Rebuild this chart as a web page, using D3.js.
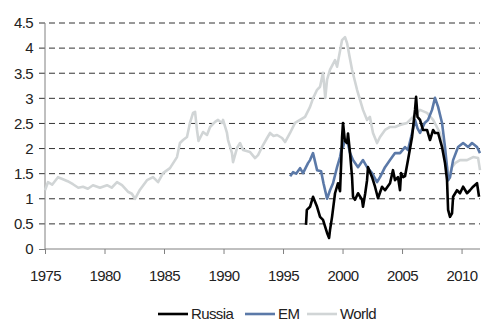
<!DOCTYPE html>
<html>
<head>
<meta charset="utf-8">
<script src="https://cdn.jsdelivr.net/npm/d3@7"></script>
<style>
  html, body { margin: 0; padding: 0; background: #fff; }
  svg { display: block; font-family: "Liberation Sans", Arial, sans-serif; }
  text { letter-spacing: -0.6px; }
</style>
</head>
<body>
<svg id="chart" width="500" height="325"></svg>
<script>
// Valuation ratios sampled through time (decimal years)
const worldYears = [1975.0, 1975.25, 1975.6, 1976.09, 1976.51, 1976.9, 1977.35, 1977.8, 1978.19, 1978.6, 1979.03, 1979.62, 1980.21, 1980.6, 1981.05, 1981.47, 1981.97, 1982.3, 1982.56, 1982.98, 1983.57, 1984.08, 1984.5, 1984.92, 1985.5, 1986.09, 1986.34, 1986.6, 1986.93, 1987.18, 1987.44, 1987.61, 1987.77, 1987.9, 1988.28, 1988.61, 1988.87, 1989.29, 1989.54, 1989.87, 1989.96, 1990.29, 1990.38, 1990.71, 1990.8, 1991.13, 1991.39, 1991.64, 1992.23, 1992.65, 1992.9, 1993.32, 1993.66, 1993.91, 1994.2, 1994.5, 1994.92, 1995.17, 1995.59, 1996.01, 1996.43, 1996.85, 1997.27, 1997.52, 1997.86, 1998.11, 1998.36, 1998.55, 1998.7, 1998.95, 1999.37, 1999.54, 1999.96, 2000.21, 2000.38, 2000.6, 2000.8, 2001.22, 2001.47, 2001.72, 2002.06, 2002.3, 2002.56, 2002.9, 2003.15, 2003.57, 2003.99, 2004.41, 2004.83, 2005.42, 2005.92, 2006.51, 2007.1, 2007.61, 2008.19, 2008.45, 2008.78, 2008.87, 2009.2, 2009.45, 2009.87, 2010.46, 2010.97, 2011.39, 2011.55];
const worldValues = [1.17, 1.33, 1.28, 1.43, 1.39, 1.35, 1.29, 1.22, 1.24, 1.2, 1.27, 1.22, 1.27, 1.22, 1.33, 1.27, 1.14, 1.1, 1.0, 1.18, 1.37, 1.43, 1.33, 1.51, 1.61, 1.83, 2.11, 2.17, 2.23, 2.51, 2.71, 2.73, 2.37, 2.15, 2.33, 2.27, 2.43, 2.53, 2.57, 2.51, 2.57, 2.31, 2.17, 1.91, 1.73, 2.01, 2.11, 1.97, 1.93, 1.81, 1.87, 2.07, 2.21, 2.31, 2.25, 2.27, 2.21, 2.13, 2.31, 2.51, 2.57, 2.63, 2.83, 3.0, 3.17, 3.23, 3.51, 3.01, 3.37, 3.57, 3.76, 3.63, 4.16, 4.22, 4.1, 3.82, 3.57, 3.17, 2.97, 2.77, 2.57, 2.63, 2.31, 2.11, 2.23, 2.37, 2.43, 2.43, 2.47, 2.51, 2.63, 2.77, 2.71, 2.57, 2.31, 2.03, 1.63, 1.37, 1.63, 1.71, 1.77, 1.77, 1.83, 1.81, 1.57];

const emYears = [1995.6, 1995.84, 1996.1, 1996.43, 1996.68, 1997.1, 1997.27, 1997.52, 1997.86, 1998.2, 1998.4, 1998.7, 1998.95, 1999.2, 1999.54, 1999.79, 1999.96, 2000.04, 2000.2, 2000.38, 2000.63, 2000.88, 2001.3, 2001.72, 2002.06, 2002.48, 2002.9, 2003.15, 2003.57, 2003.99, 2004.41, 2004.83, 2005.25, 2005.5, 2005.84, 2006.09, 2006.3, 2006.51, 2006.9, 2007.18, 2007.52, 2007.77, 2008.03, 2008.36, 2008.61, 2008.78, 2008.87, 2009.03, 2009.29, 2009.71, 2010.13, 2010.55, 2010.88, 2011.3, 2011.55];
const emValues = [1.45, 1.53, 1.5, 1.61, 1.51, 1.71, 1.77, 1.91, 1.57, 1.55, 1.31, 1.0, 1.17, 1.31, 1.63, 1.83, 2.05, 2.03, 2.17, 2.17, 1.91, 1.77, 1.63, 1.77, 1.63, 1.51, 1.33, 1.43, 1.63, 1.77, 1.91, 1.91, 2.03, 1.97, 2.31, 2.57, 2.4, 2.31, 2.51, 2.57, 2.77, 3.01, 2.83, 2.51, 2.03, 1.63, 1.37, 1.43, 1.77, 2.03, 2.11, 2.03, 2.11, 2.03, 1.91];

const russiaYears = [1996.93, 1997.0, 1997.27, 1997.52, 1997.86, 1998.11, 1998.36, 1998.7, 1998.87, 1998.95, 1999.12, 1999.37, 1999.62, 1999.79, 1999.9, 1999.96, 2000.04, 2000.2, 2000.38, 2000.46, 2000.63, 2000.8, 2000.88, 2001.05, 2001.3, 2001.64, 2001.72, 2001.9, 2002.06, 2002.14, 2002.48, 2002.73, 2002.98, 2003.32, 2003.57, 2003.99, 2004.24, 2004.41, 2004.66, 2004.83, 2004.92, 2005.1, 2005.25, 2005.5, 2005.84, 2006.09, 2006.18, 2006.3, 2006.51, 2006.76, 2007.1, 2007.35, 2007.61, 2007.77, 2008.03, 2008.36, 2008.61, 2008.78, 2008.87, 2009.03, 2009.2, 2009.29, 2009.62, 2009.87, 2010.13, 2010.46, 2010.71, 2010.97, 2011.3, 2011.47];
const russiaValues = [0.48, 0.78, 0.84, 1.04, 0.84, 0.64, 0.58, 0.32, 0.22, 0.38, 0.64, 1.11, 1.31, 1.15, 1.8, 2.23, 2.51, 2.15, 2.11, 2.3, 1.91, 1.43, 1.04, 0.98, 1.11, 0.98, 0.84, 1.1, 1.37, 1.63, 1.43, 1.24, 1.01, 1.24, 1.17, 1.31, 1.57, 1.37, 1.43, 1.17, 1.51, 1.43, 1.45, 1.77, 2.23, 2.77, 3.03, 2.63, 2.57, 2.37, 2.37, 2.17, 2.37, 2.31, 2.31, 2.03, 1.71, 1.37, 0.78, 0.64, 0.71, 1.04, 1.17, 1.11, 1.24, 1.11, 1.17, 1.24, 1.31, 1.04];

const yTicks = [0, 0.5, 1, 1.5, 2, 2.5, 3, 3.5, 4, 4.5];
const xTicks = [1975, 1980, 1985, 1990, 1995, 2000, 2005, 2010];
const seriesNames = ["Russia", "EM", "World"];
const seriesColors = ["#000000", "#5b79a8", "#d1d5d6"];

const svg = d3.select("#chart");
const x = d3.scaleLinear().domain([1975, 2011.55]).range([45, 480]);
const y = d3.scaleLinear().domain([0, 4.5]).range([249, 23]);

// dashed horizontal gridlines (also serve as left ticks)
svg.append("g")
  .selectAll("line")
  .data(yTicks.filter(d => d > 0))
  .join("line")
  .attr("x1", x(1975) - 6).attr("x2", x.range()[1])
  .attr("y1", d => y(d)).attr("y2", d => y(d))
  .attr("stroke", "#333").attr("stroke-width", 1)
  .attr("stroke-dasharray", "6,4");

// y axis
const yAxis = svg.append("g")
  .attr("transform", `translate(${x(1975)},0)`)
  .call(d3.axisLeft(y).tickValues(yTicks).tickSize(6).tickFormat(d3.format("")));
yAxis.select(".domain").attr("stroke", "#808080").attr("d", `M0,${y(0)}V${y(4.5)}`);
yAxis.selectAll(".tick line").attr("stroke", d => d === 0 ? "#808080" : "none");
yAxis.selectAll(".tick text")
  .attr("x", -12).attr("font-size", 15)
  .attr("font-family", "Liberation Sans, Arial, sans-serif")
  .attr("fill", "#222");

// x axis
const xAxis = svg.append("g")
  .attr("transform", `translate(0,${y(0)})`)
  .call(d3.axisBottom(x).tickValues(xTicks).tickSize(5).tickFormat(d3.format("d")));
xAxis.select(".domain").attr("stroke", "#808080").attr("d", `M${x.range()[0]},0H${x.range()[1]}`);
xAxis.selectAll(".tick line").attr("stroke", "#808080");
xAxis.selectAll(".tick text")
  .attr("y", 21).attr("font-size", 15)
  .attr("font-family", "Liberation Sans, Arial, sans-serif")
  .attr("fill", "#222");

// series lines
const line = d3.line().x(d => x(d[0])).y(d => y(d[1]));
const series = [
  { name: "World", years: worldYears, values: worldValues, color: seriesColors[2] },
  { name: "EM", years: emYears, values: emValues, color: seriesColors[1] },
  { name: "Russia", years: russiaYears, values: russiaValues, color: seriesColors[0] }
];
svg.append("g")
  .selectAll("path")
  .data(series)
  .join("path")
  .attr("d", s => line(s.years.map((yr, i) => [yr, s.values[i]])))
  .attr("fill", "none")
  .attr("stroke", s => s.color)
  .attr("stroke-width", 2.6)
  .attr("stroke-linejoin", "round");

// legend
const legendX = [158, 245, 307];
const legend = svg.append("g")
  .selectAll("g")
  .data(seriesNames)
  .join("g")
  .attr("transform", (d, i) => `translate(${legendX[i]},314)`);
legend.append("line")
  .attr("x1", 0).attr("x2", 30).attr("y1", 0).attr("y2", 0)
  .attr("stroke", (d, i) => seriesColors[i]).attr("stroke-width", 2.6);
legend.append("text")
  .attr("x", 33).attr("y", 5)
  .attr("font-size", 15)
  .attr("fill", "#222")
  .text(d => d);
</script>
</body>
</html>
